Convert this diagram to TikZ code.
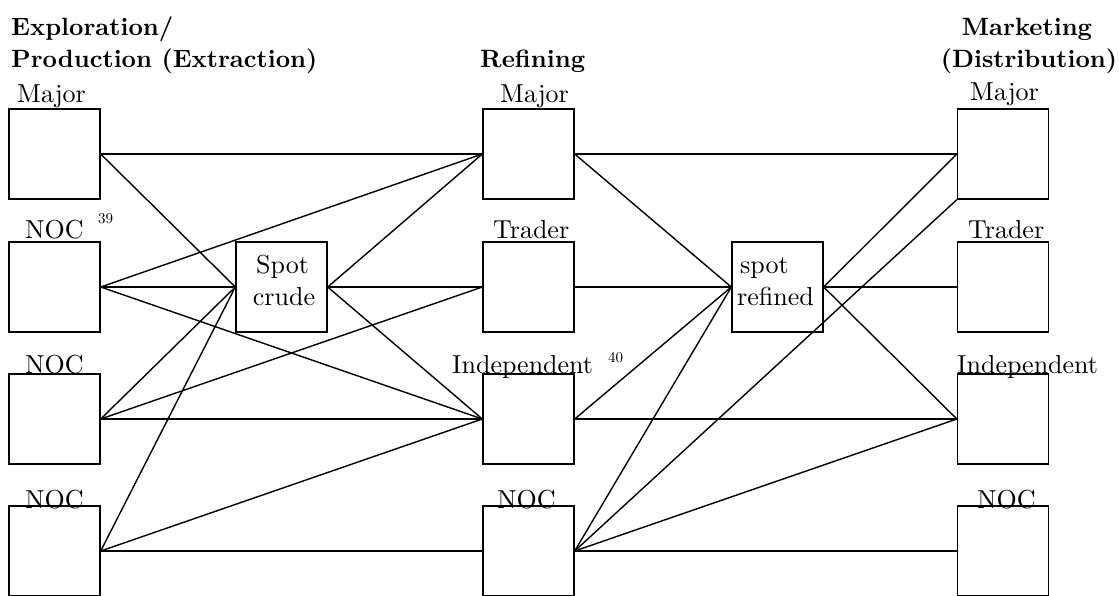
\documentclass[tikz,border=0pt]{standalone}
\usepackage{fontspec}
\setmainfont{lmroman10-regular.otf}[BoldFont=lmroman10-bold.otf]
\usepackage{tikz}

\tikzset{
  firm/.style={draw, rectangle, line width=1.4pt, minimum width=91pt, minimum height=90pt, inner sep=0pt},
  lbl/.style={font=\fontsize{26}{32}\selectfont, inner sep=0pt, anchor=base west},
  head/.style={font=\fontsize{25}{30}\selectfont\bfseries, inner sep=0pt, anchor=base west},
  sup/.style={font=\fontsize{15}{17}\selectfont, inner sep=0pt, anchor=base west}
}

\begin{document}
\begin{tikzpicture}[x=1pt,y=-1pt]
    \useasboundingbox (0,0) rectangle (1119,595);
    \clip (0,0) rectangle (1119,595);

        % stage headings
        \node[head] (hP1) at (11,35) {Exploration/};
        \node[head] (hP2) at (11,67) {Production (Extraction)};
        \node[head] (hF) at (480,67) {Refining};
        \node[head, anchor=base] (hD1) at (1027,35) {Marketing};
        \node[head, anchor=base] (hD2) at (1029,67) {(Distribution)};

        % boxes, the tuple gives the centre
        \begin{scope}[every node/.style={firm}]
        \node (P1) at (54.5,154) {};
        \node (P2) at (54.5,287) {};
        \node (P3) at (54.5,419) {};
        \node (P4) at (54.5,551) {};
        \node (SC) at (281.5,287) {};
        \node (F1) at (528.5,154) {};
        \node (F2) at (528.5,287) {};
        \node (F3) at (528.5,419) {};
        \node (F4) at (528.5,551) {};
        \node (SR) at (777.5,287) {};
        \node (D1) at (1003,154) {};
        \node (D2) at (1003,287) {};
        \node (D3) at (1003,419) {};
        \node (D4) at (1003,551) {};
        \end{scope}

        % names over the boxes
        \begin{scope}[every node/.style={lbl}]
        \node (lP1) at (17,102) {Major};
        \node (lP2) at (25,238) {NOC};
        \node (lP3) at (25,373) {NOC};
        \node (lP4) at (25,508) {NOC};
        \node (lF1) at (500,102) {Major};
        \node (lF2) at (493,238) {Trader};
        \node (lF3) at (452,373) {Independent};
        \node (lF4) at (497,508) {NOC};
        \node (lD1) at (970,100) {Major};
        \node (lD2) at (968,238) {Trader};
        \node (lD3) at (957,373) {Independent};
        \node (lD4) at (977,508) {NOC};
        \node[anchor=base] (lSC1) at (282.5,273) {Spot};
        \node[anchor=base] (lSC2) at (284,305) {crude};
        \node (lSR1) at (740,273) {spot};
        \node (lSR2) at (737,305) {refined};
        \end{scope}
        \node[sup] (n39) at (98,223) {39};
        \node[sup] (n40) at (608,362) {40};

        % crude side
        \begin{scope}[every edge/.style={draw=black, line width=1.4pt}]
        \path (P1.east) edge (F1.west);
        \path (P1.east) edge (SC.west);

        \path (P2.east) edge (F1.west);
        \path (P2.east) edge (SC.west);
        \path (P2.east) edge (F3.west);

        \path (P3.east) edge (SC.west);
        \path (P3.east) edge (F2.west);
        \path (P3.east) edge (F3.west);

        \path (P4.east) edge (SC.west);
        \path (P4.east) edge (F3.west);
        \path (P4.east) edge (F4.west);

        \path (SC.east) edge (F1.west);
        \path (SC.east) edge (F2.west);
        \path (SC.east) edge (F3.west);

        % refined side
        \path (F1.east) edge (D1.west);
        \path (F1.east) edge (SR.west);

        \path (F2.east) edge (SR.west);

        \path (F3.east) edge (SR.west);
        \path (F3.east) edge (D3.west);

        \path (F4.east) edge (SR.west);
        \path (F4.east) edge (D1.south west);
        \path (F4.east) edge (D3.west);
        \path (F4.east) edge (D4.west);

        \path (SR.east) edge (D1.west);
        \path (SR.east) edge (D2.west);
        \path (SR.east) edge (D3.west);
        \end{scope}

\end{tikzpicture}
\end{document}
